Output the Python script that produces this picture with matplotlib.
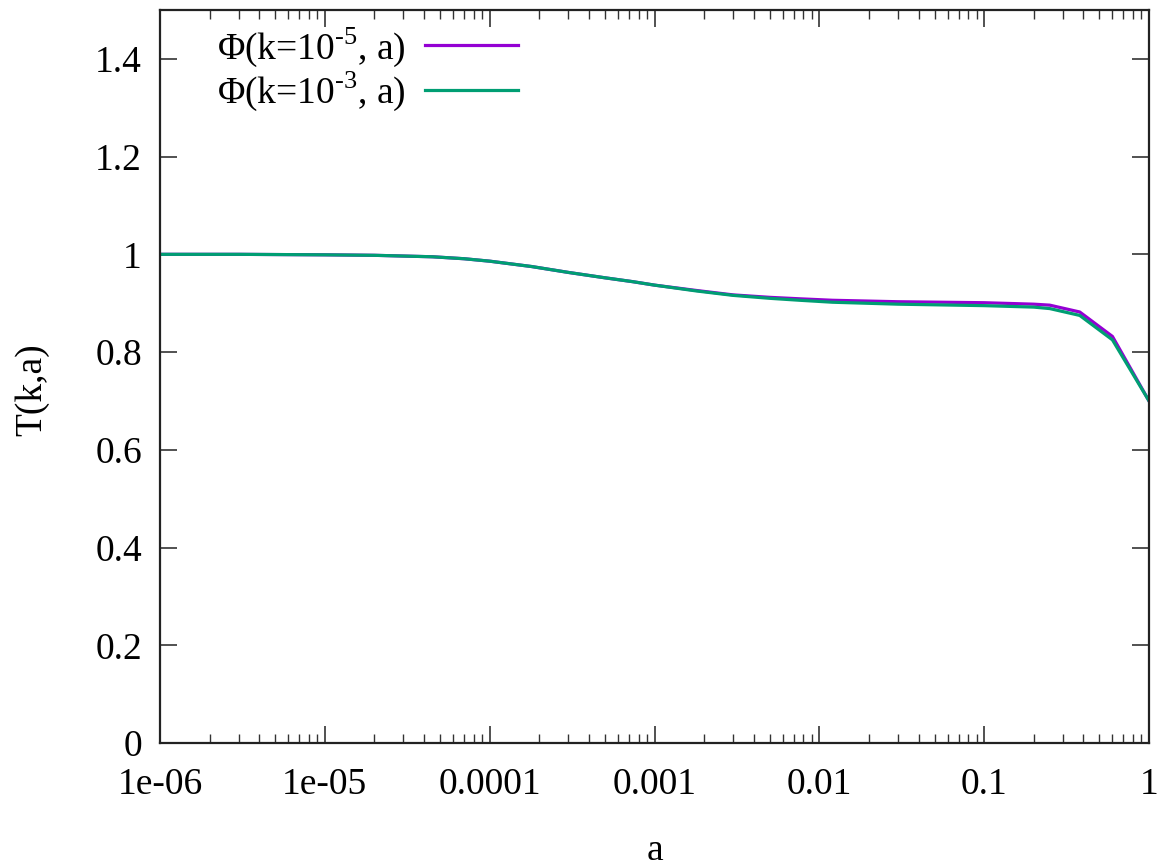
import numpy as np
import matplotlib
matplotlib.use("Agg")
import matplotlib.pyplot as plt
from matplotlib.ticker import LogLocator, NullFormatter

plt.rcParams['font.family'] = ['Liberation Serif', 'DejaVu Serif']
plt.rcParams['mathtext.fontset'] = 'custom'
plt.rcParams['mathtext.rm'] = 'Liberation Serif'

# data
a_k5 = [1e-6, 3e-6, 1e-5, 2e-5, 4.5e-5, 7e-5, 1e-4, 1.8e-4, 3e-4, 5e-4, 7.4e-4, 1e-3, 1.8e-3, 3e-3, 5e-3, 7.6e-3, 1.2e-2, 3e-2, 0.1, 0.2, 0.25, 0.38, 0.6, 1.0]
T_k5 = [1.0, 1.0, 0.999, 0.998, 0.995, 0.991, 0.986, 0.975, 0.963, 0.952, 0.944, 0.937, 0.926, 0.917, 0.912, 0.909, 0.906, 0.903, 0.901, 0.898, 0.896, 0.882, 0.832, 0.700]
a_k3 = [1e-6, 3e-6, 1e-5, 2e-5, 4.5e-5, 7e-5, 1e-4, 1.8e-4, 3e-4, 5e-4, 7.4e-4, 1e-3, 1.8e-3, 3e-3, 5e-3, 7.6e-3, 1.2e-2, 3e-2, 0.1, 0.2, 0.25, 0.38, 0.6, 1.0]
T_k3 = [1.0, 1.0, 0.999, 0.998, 0.995, 0.991, 0.986, 0.975, 0.963, 0.952, 0.944, 0.937, 0.925, 0.916, 0.910, 0.906, 0.902, 0.898, 0.895, 0.892, 0.889, 0.875, 0.825, 0.700]

labels = ['Φ(k=10$^{\\text{-5}}$, a)', 'Φ(k=10$^{\\text{-3}}$, a)']
colors = ['#9400d3', '#009e73']

xticks = [1e-6, 1e-5, 1e-4, 1e-3, 1e-2, 1e-1, 1]
xticklabels = ['1e-06', '1e-05', '0.0001', '0.001', '0.01', '0.1', '1']
yticks = [0, 0.2, 0.4, 0.6, 0.8, 1.0, 1.2, 1.4]
yticklabels = ['0', '0.2', '0.4', '0.6', '0.8', '1', '1.2', '1.4']

fig = plt.figure(figsize=(11.61, 8.68), dpi=100)
ax = fig.add_axes([160/1161, 125/868, (1149-160)/1161, (743-10)/868])

ax.plot(a_k5, T_k5, color=colors[0], lw=2.3, label=labels[0])
ax.plot(a_k3, T_k3, color=colors[1], lw=2.3, label=labels[1])

ax.set_xscale('log')
ax.set_xlim(1e-6, 1)
ax.set_ylim(0, 1.5)
ax.set_xticks(xticks)
ax.set_xticklabels(xticklabels)
ax.xaxis.set_minor_locator(LogLocator(base=10, subs=np.arange(2, 10)))
ax.xaxis.set_minor_formatter(NullFormatter())
ax.set_yticks(yticks)
ax.set_yticklabels(yticklabels)

fs = 27
ax.tick_params(axis='both', which='major', direction='in', length=12, width=1.2,
               top=True, right=True, labelsize=fs, colors='#333333', labelcolor='black')
ax.tick_params(axis='x', which='major', pad=18)
ax.tick_params(axis='y', which='major', pad=13)
ax.tick_params(axis='x', which='minor', direction='in', length=6.5, width=1.0,
               top=True, colors='#333333')
for s in ax.spines.values():
    s.set_linewidth(1.6)
    s.set_color('#222222')

ax.set_xlabel('a', fontsize=fs, labelpad=22)
ax.set_ylabel('T(k,a)', fontsize=fs)
ax.yaxis.set_label_coords(-0.112, 0.482)

leg = ax.legend(loc='upper left', bbox_to_anchor=(0.035, 1.01), frameon=False,
                markerfirst=False, fontsize=fs, handlelength=2.5,
                handletextpad=0.5, labelspacing=0.02, borderaxespad=0.2)

fig.savefig('out.png', dpi=100)
